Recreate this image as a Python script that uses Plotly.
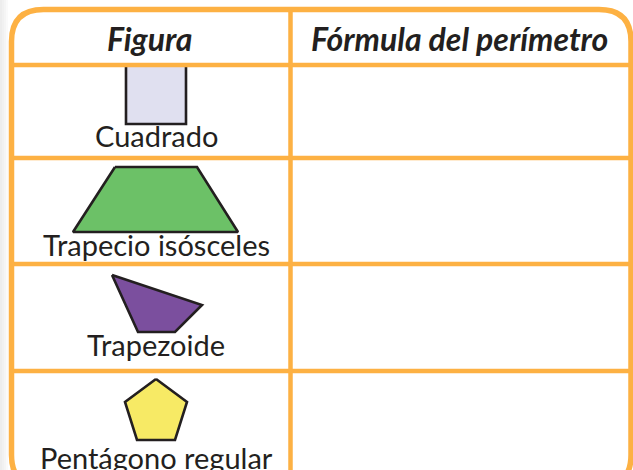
import plotly.graph_objects as go

# ---- content ----
headers = ["Figura", "Fórmula del perímetro"]
figuras = ["Cuadrado", "Trapecio isósceles", "Trapezoide", "Pentágono regular"]
fill_colors = ["#E0E0F0", "#6CC167", "#7B4F9E", "#F7EA65"]

# ---- geometry (pixel space, y downward) ----
W, H = 633, 470
ORANGE = "#FDB143"
INK = "#231F20"
left, right, top, bottom = 11.5, 631, 9.5, 487
radius = 32
col_split = 290.5
row_lines = [65, 158, 264, 371]
label_x = 156
label_baselines = [145, 254, 354, 467]
header_x = [149, 459]
header_y = 38

shape_x = [
    [126, 186, 186, 126],
    [115, 197, 238, 73],
    [112, 202, 175, 138],
    [156, 187, 175, 137, 125],
]
shape_y = [
    [65, 65, 124, 124],
    [167, 167, 232, 232],
    [275, 305, 332, 332],
    [379, 402, 440, 440, 402],
]

fig = go.Figure()

for xs, ys, c in zip(shape_x, shape_y, fill_colors):
    fig.add_trace(go.Scatter(
        x=xs + [xs[0]], y=ys + [ys[0]], mode="lines", fill="toself",
        fillcolor=c, line=dict(color=INK, width=2.6), hoverinfo="skip",
        showlegend=False))

shapes = []
# left shadow strip
for i, g in enumerate(["#EDEDED", "#F1F1F1", "#F5F5F5", "#FAFAFA"]):
    shapes.append(dict(type="rect", x0=i * 2, x1=i * 2 + 2, y0=0, y1=H,
                       fillcolor=g, line=dict(width=0), layer="below"))
# inner lines
for y in row_lines:
    shapes.append(dict(type="line", x0=left, x1=right, y0=y, y1=y,
                       line=dict(color=ORANGE, width=4.5)))
shapes.append(dict(type="line", x0=col_split, x1=col_split, y0=top, y1=bottom,
                   line=dict(color=ORANGE, width=4.5)))
# outer rounded border
r = radius
path = (f"M {left + r},{top} L {right - r},{top} Q {right},{top} {right},{top + r} "
        f"L {right},{bottom - r} Q {right},{bottom} {right - r},{bottom} "
        f"L {left + r},{bottom} Q {left},{bottom} {left},{bottom - r} "
        f"L {left},{top + r} Q {left},{top} {left + r},{top} Z")
shapes.append(dict(type="path", path=path, line=dict(color=ORANGE, width=5.5)))

annotations = []
for hx, h in zip(header_x, headers):
    annotations.append(dict(x=hx, y=header_y, text=f"<b><i>{h}</i></b>",
                            showarrow=False, xanchor="center", yanchor="middle",
                            font=dict(family="Lato", size=32, color=INK)))
for f, b in zip(figuras, label_baselines):
    annotations.append(dict(x=label_x, y=b - 10, text=f, showarrow=False,
                            xanchor="center", yanchor="middle",
                            font=dict(family="Lato", size=29, color=INK)))

fig.update_layout(
    width=W, height=H, margin=dict(l=0, r=0, t=0, b=0),
    paper_bgcolor="white", plot_bgcolor="white",
    xaxis=dict(range=[0, W], visible=False, fixedrange=True),
    yaxis=dict(range=[H, 0], visible=False, fixedrange=True),
    shapes=shapes, annotations=annotations,
)
fig.write_html("out.html", config=dict(displayModeBar=False),
               post_script="document.body.style.margin='0';")
